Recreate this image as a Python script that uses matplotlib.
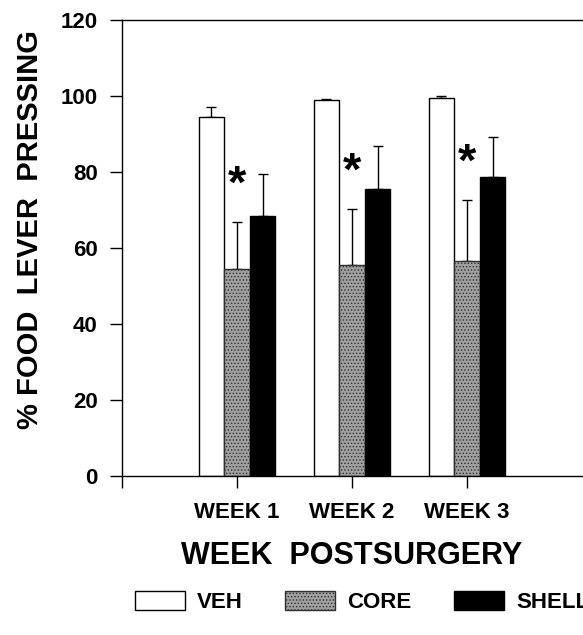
import numpy as np
import matplotlib
matplotlib.use('Agg')
import matplotlib.pyplot as plt

plt.rcParams['font.family'] = ['Liberation Sans', 'DejaVu Sans']
plt.rcParams['font.weight'] = 'bold'
plt.rcParams['hatch.linewidth'] = 0.6

# data
weeks = ['WEEK 1', 'WEEK 2', 'WEEK 3']
groups = ['VEH', 'CORE', 'SHELL']
veh = [94.6, 98.9, 99.6]
veh_err = [2.6, 0.3, 0.3]
core = [54.6, 55.4, 56.7]
core_err = [12.2, 14.9, 15.9]
shell = [68.5, 75.6, 78.7]
shell_err = [11.0, 11.2, 10.6]
signif = [True, True, True]

fig = plt.figure(figsize=(5.83, 6.35), dpi=100)
ax = fig.add_axes([0.2093, 0.2504, 0.789, 0.7181])

index = np.arange(1, len(weeks) + 1)
bar_width = 0.222

series = [
    (veh, veh_err, dict(color='white', edgecolor='black')),
    (core, core_err, dict(color='#a0a0a0', edgecolor='#303030', hatch='.....')),
    (shell, shell_err, dict(color='black', edgecolor='black')),
]
for k, (vals, errs, style) in enumerate(series):
    pos = index + (k - 1) * bar_width
    ax.bar(pos, vals, bar_width, linewidth=1.0, label=groups[k], zorder=2, **style)
    ax.errorbar(pos, vals, yerr=[np.zeros(len(errs)), errs], fmt='none',
                ecolor='black', elinewidth=1.0, capsize=3.5, capthick=1.0, zorder=1)

# asterisks above CORE bars
for i, s in enumerate(signif):
    if s:
        ax.text(index[i], core[i] + core_err[i] + 9.5, '*', ha='center', va='center',
                fontsize=34, fontweight='bold')

ax.set_xlim(0, 4)
ax.set_ylim(0, 120)
ax.set_yticks(np.arange(0, 121, 20))
ax.set_xticks([0] + list(index))
ax.set_xticklabels([''] + weeks)
ax.tick_params(axis='y', direction='out', length=8.5, width=1, labelsize=16, pad=9)
ax.tick_params(axis='x', direction='out', length=8.5, width=1, labelsize=16, pad=10)
for lab in ax.get_xticklabels() + ax.get_yticklabels():
    lab.set_fontweight('bold')
ax.spines['right'].set_visible(False)
for sp in ['left', 'top', 'bottom']:
    ax.spines[sp].set_linewidth(1.0)

ax.set_xlabel('WEEK  POSTSURGERY', fontsize=22, fontweight='bold', labelpad=13)
ax.set_ylabel('% FOOD  LEVER  PRESSING', fontsize=21, fontweight='bold')
ax.yaxis.set_label_coords(-0.17, 0.54)

fig.legend(loc='lower left', bbox_to_anchor=(0.2316, 0.035), ncol=3, frameon=False,
           fontsize=16, handlelength=2.25, handleheight=0.95, handletextpad=0.55,
           columnspacing=1.9, borderaxespad=0, borderpad=0)

plt.savefig('out.png', dpi=100)
